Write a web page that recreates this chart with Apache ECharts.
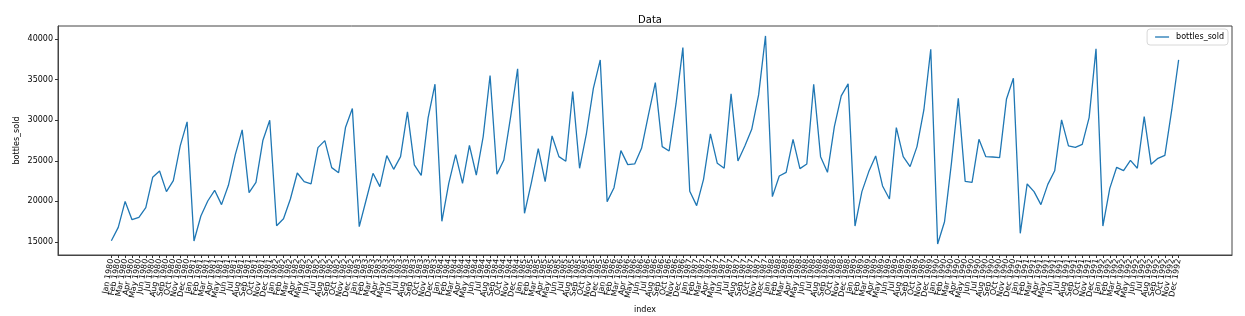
<!DOCTYPE html>
<html>
<head>
<meta charset="utf-8">
<script src="https://cdn.jsdelivr.net/npm/echarts@6/dist/echarts.min.js"></script>
<style>
html,body{margin:0;padding:0;background:#fff;}
#chart{width:1245px;height:316px;}
</style>
</head>
<body>
<div id="chart"></div>
<script>
const months = ['Jan','Feb','Mar','Apr','May','Jun','Jul','Aug','Sep','Oct','Nov','Dec'];
const years = [1980,1981,1982,1983,1984,1985,1986,1987,1988,1989,1990,1991,1992];
const categories = [];
years.forEach(y => months.forEach(m => categories.push(m + ' ' + y)));

const bottles_sold = [
  15150, 16800, 20000, 17750, 18040, 19230, 22970, 23750, 21200, 22560, 26830, 29790,
  15120, 18200, 20050, 21370, 19600, 21980, 25760, 28800, 21080, 22350, 27490, 29990,
  17010, 17870, 20300, 23500, 22430, 22150, 26620, 27490, 24160, 23540, 29090, 31430,
  16890, 20170, 23460, 21820, 25640, 23950, 25510, 31020, 24490, 23210, 30280, 34430,
  17550, 22230, 25760, 22230, 26910, 23250, 27980, 35500, 23340, 25100, 30500, 36320,
  18530, 22310, 26500, 22430, 28060, 25510, 24940, 33520, 24080, 28390, 33930, 37420,
  19970, 21690, 26250, 24530, 24610, 26540, 30650, 34630, 26750, 26210, 32000, 38940,
  21250, 19480, 22720, 28310, 24690, 24080, 33240, 24980, 26830, 28880, 33110, 40380,
  20590, 23130, 23580, 27650, 24040, 24610, 34430, 25510, 23580, 29210, 32990, 34470,
  16970, 21200, 23670, 25600, 21900, 20300, 29090, 25510, 24280, 26750, 31260, 38740,
  14750, 17500, 24690, 32700, 22470, 22350, 27650, 25510, 25470, 25390, 32620, 35170,
  16070, 22150, 21200, 19600, 22100, 23770, 30030, 26830, 26660, 27030, 30320, 38780,
  16970, 21610, 24200, 23790, 25060, 24080, 30440, 24570, 25310, 25680, 31260, 37420
];

const yTicks = [15000, 20000, 25000, 30000, 35000, 40000];

const X_MIN = -7.75, X_MAX = 162.75;
// label/tick positions: the month indices, padded with the two axis ends (hidden)
const xTickValues = [X_MIN].concat(categories.map((_, i) => i), [X_MAX]);
const seriesData = bottles_sold.map((v, i) => [i, v]);

const chart = echarts.init(document.getElementById('chart'), null, {renderer: 'canvas'});
const font = 'DejaVu Sans';
chart.setOption({
  animation: false,
  backgroundColor: '#fff',
  textStyle: {fontFamily: font},
  title: {
    text: 'Data',
    left: 645, top: 10, textAlign: 'center',
    textStyle: {fontFamily: font, fontSize: 10, fontWeight: 'normal', color: '#000'}
  },
  legend: {
    data: [{name: 'bottles_sold', icon: 'rect'}],
    right: 17, top: 29,
    itemWidth: 14, itemHeight: 1.3, itemGap: 6,
    padding: [4, 4, 4, 8],
    borderColor: '#d8d8d8', borderWidth: 1, borderRadius: 3,
    backgroundColor: '#fff',
    textStyle: {fontFamily: font, fontSize: 8, color: '#000', padding: [0, 0, 0, 2]}
  },
  grid: {
    left: 58, right: 13, top: 26, bottom: 61,
    show: true, borderColor: '#444', borderWidth: 1,
    containLabel: false, outerBoundsMode: 'none'
  },
  xAxis: {
    type: 'value',
    min: X_MIN, max: X_MAX,
    name: 'index', nameLocation: 'middle', nameGap: 51, nameMoveOverlap: false,
    nameTextStyle: {fontFamily: font, fontSize: 8, color: '#000'},
    axisLine: {show: true, onZero: false, lineStyle: {color: '#444', width: 1}},
    axisTick: {show: true, length: 3, lineStyle: {color: '#333'}, customValues: xTickValues},
    axisLabel: {
      show: true, rotate: 80, fontSize: 8, color: '#000', fontFamily: font, margin: 4,
      showMinLabel: false, showMaxLabel: false, hideOverlap: false,
      customValues: xTickValues,
      formatter: v => (v === X_MIN || v === X_MAX) ? '' : categories[Math.round(v)]
    },
    splitLine: {show: false}
  },
  yAxis: {
    type: 'value',
    min: 13400, max: 41600,
    name: 'bottles_sold', nameLocation: 'middle', nameGap: 37, nameRotate: 90, nameMoveOverlap: false,
    nameTextStyle: {fontFamily: font, fontSize: 8, color: '#000'},
    axisLine: {show: true, onZero: false, lineStyle: {color: '#444', width: 1}},
    axisTick: {show: true, length: 3, lineStyle: {color: '#333'}, customValues: yTicks},
    axisLabel: {
      show: true, fontSize: 8, color: '#000', fontFamily: font, margin: 5,
      customValues: yTicks, showMinLabel: true, showMaxLabel: true,
      formatter: v => String(v)
    },
    splitLine: {show: false}
  },
  series: [{
    name: 'bottles_sold',
    type: 'line',
    data: seriesData,
    symbol: 'none',
    lineStyle: {color: '#1f77b4', width: 1.3},
    itemStyle: {color: '#1f77b4'}
  }]
});
</script>
</body>
</html>
